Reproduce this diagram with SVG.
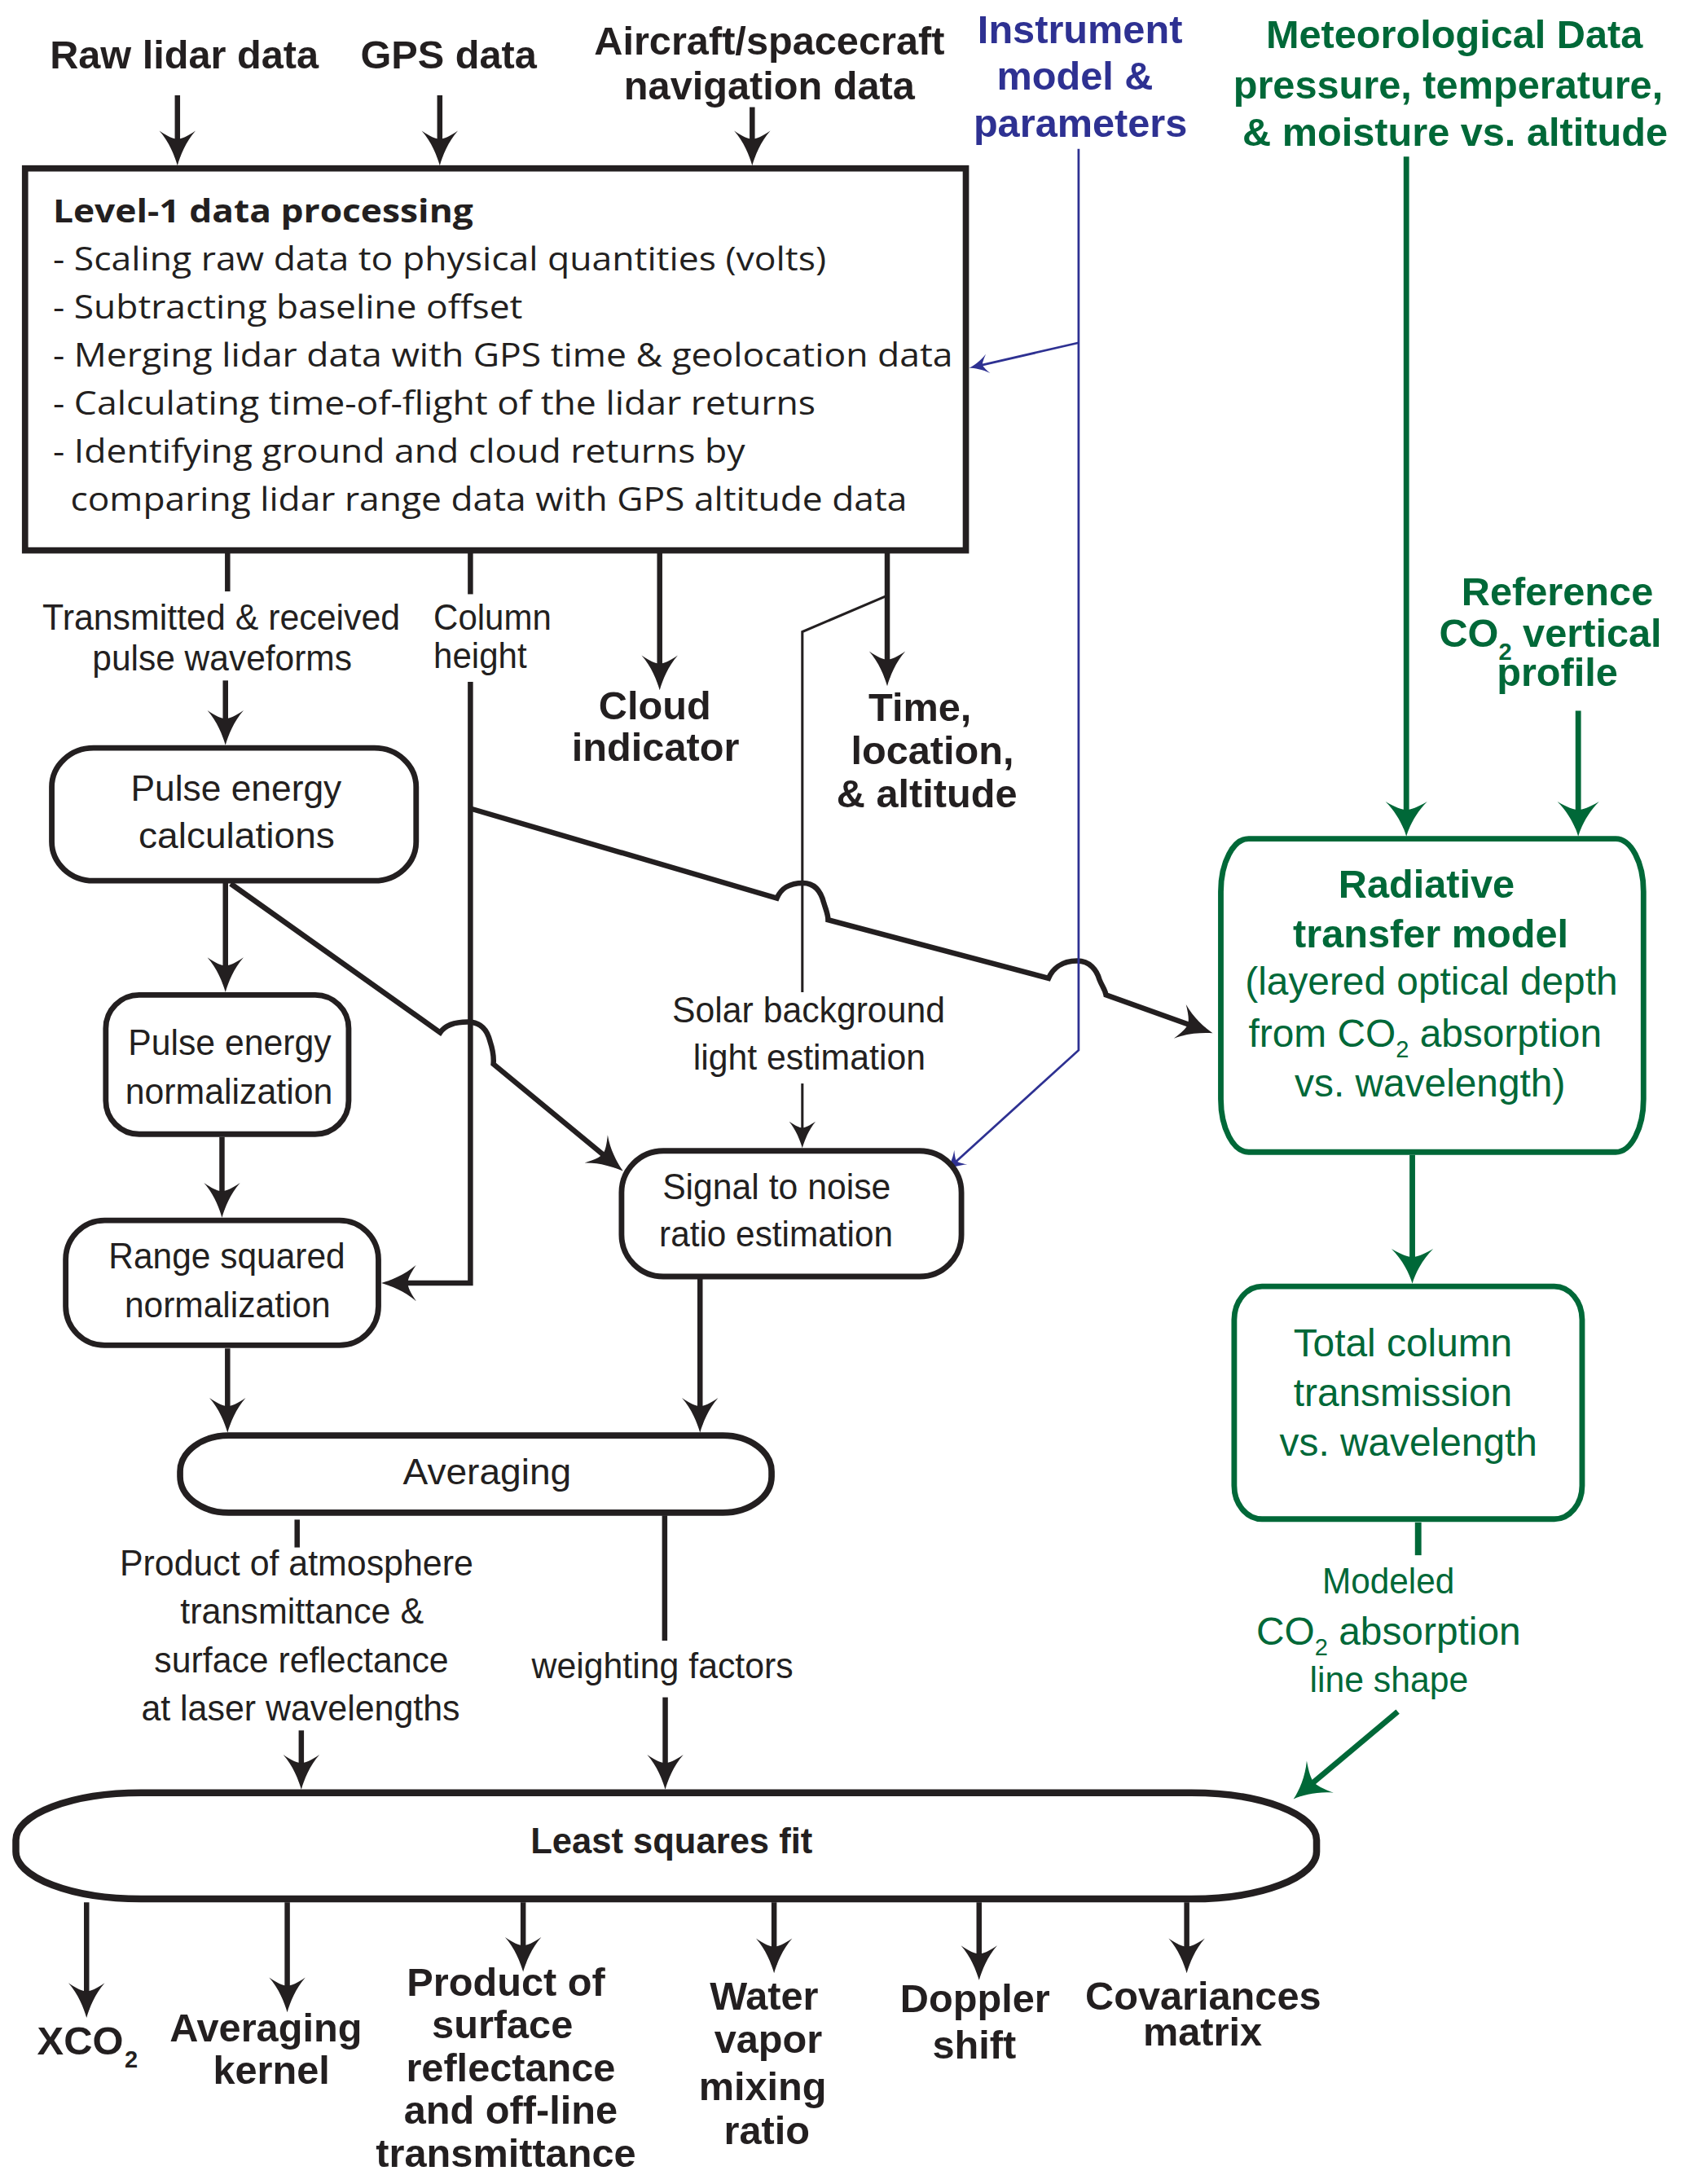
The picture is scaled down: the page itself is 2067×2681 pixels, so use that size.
<svg xmlns="http://www.w3.org/2000/svg" width="2067" height="2681" viewBox="0 0 2067 2681">
<style>
.bk{fill:none;stroke:#231f20;stroke-width:3.8}
.bkt{fill:none;stroke:#231f20;stroke-width:1.8}
.bl{fill:none;stroke:#2e3192;stroke-width:1.6}
.gr{fill:none;stroke:#006838;stroke-width:4}
.nb{fill:#fff;stroke:#231f20;stroke-width:4}
.ng{fill:#fff;stroke:#006838;stroke-width:4}
text{font-family:'Liberation Sans',Arial,Helvetica,sans-serif}
.tb{font-weight:bold;font-size:28.5px;fill:#231f20}
.tr{font-size:26px;fill:#231f20}
.l1{font-family:'Open Sans','Noto Sans','Liberation Sans',sans-serif;font-size:23.5px;fill:#231f20}
.l1b{font-family:'Open Sans','Noto Sans','Liberation Sans',sans-serif;font-size:23.5px;font-weight:bold;fill:#231f20}
.blt{font-weight:bold;font-size:28.5px;fill:#2e3192}
.gb{font-weight:bold;font-size:28.5px;fill:#006838}
.g{font-size:28px;fill:#006838}
.m{text-anchor:middle}
</style>
<defs>
<marker id="ak" viewBox="-28 -16 30 32" markerWidth="30" markerHeight="32" refX="-6" refY="0" orient="auto" markerUnits="userSpaceOnUse" overflow="visible">
<path d="M0,0 C-7,-2 -17,-6 -25,-13 C-21,-7 -19,-3 -19,0 C-19,3 -21,7 -25,13 C-17,6 -7,2 0,0 Z" fill="#231f20"/>
</marker>
<marker id="aks" viewBox="-22 -12 24 24" markerWidth="24" markerHeight="24" refX="-4" refY="0" orient="auto" markerUnits="userSpaceOnUse" overflow="visible">
<path d="M0,0 C-5,-1.5 -13,-4.5 -19,-9.5 C-16,-5 -14.5,-2 -14.5,0 C-14.5,2 -16,5 -19,9.5 C-13,4.5 -5,1.5 0,0 Z" fill="#231f20"/>
</marker>
<marker id="ab" viewBox="-16 -9 18 18" markerWidth="18" markerHeight="18" refX="-3" refY="0" orient="auto" markerUnits="userSpaceOnUse" overflow="visible">
<path d="M0,0 C-4,-1 -9,-3 -14,-7 C-11,-3 -10,-1 -10,0 C-10,1 -11,3 -14,7 C-9,3 -4,1 0,0 Z" fill="#2e3192"/>
</marker>
<marker id="ag" viewBox="-28 -17 30 34" markerWidth="30" markerHeight="34" refX="-6" refY="0" orient="auto" markerUnits="userSpaceOnUse" overflow="visible">
<path d="M0,0 C-7,-2 -17,-7 -25,-15 C-21,-8 -19,-3 -19,0 C-19,3 -21,8 -25,15 C-17,7 -7,2 0,0 Z" fill="#006838"/>
</marker>
</defs>
<rect width="2067" height="2681" fill="#fff"/>
<g transform="scale(1.708264)">

<g id="connectors">
<path class="bk" d="M127.5 68.5 V113" marker-end="url(#ak)"/>
<path class="bk" d="M316 68.5 V113" marker-end="url(#ak)"/>
<path class="bk" d="M540.5 77 V113" marker-end="url(#ak)"/>
<path class="bk" d="M163.5 397 V425"/>
<path class="bk" d="M162 489 V529.5" marker-end="url(#ak)"/>
<path class="bk" d="M338 397 V427"/>
<path class="bk" d="M338 490 V922 H280" marker-end="url(#ak)"/>
<path class="bk" d="M474 397 V490" marker-end="url(#ak)"/>
<path class="bk" d="M637.5 397 V487" marker-end="url(#ak)"/>
<path class="bkt" d="M637.5 428 L576.5 454 V713"/>
<path class="bkt" d="M576.5 778.6 V821" marker-end="url(#aks)"/>
<path class="bk" d="M338 581 L558.2 645.4 C561 639 566 634.5 577 634.5 C586 634.5 590 641 592 649 C593.5 654 595 657 595 661 L753.4 703 C756 697 762 690.5 774 690.5 C783 690.5 788 697 790 704 C792 709 794 711 794.7 715 L865.7 740.4" marker-end="url(#ak)"/>
<path class="bk" d="M162 633 V707" marker-end="url(#ak)"/>
<path class="bk" d="M165.7 635 L316.3 742 C319 738 325 734.4 336 734.4 C345 734.4 350 740 352 748 C354 754 355 759 354.5 764.6 L443 837.7" marker-end="url(#ak)"/>
<path class="bk" d="M159.5 817 V869" marker-end="url(#ak)"/>
<path class="bk" d="M163.5 969 V1023.5" marker-end="url(#ak)"/>
<path class="bk" d="M503 919 V1023.5" marker-end="url(#ak)"/>
<path class="bk" d="M213.5 1092 V1112"/>
<path class="bk" d="M216.5 1243.5 V1280" marker-end="url(#ak)"/>
<path class="bk" d="M477.6 1089 V1179"/>
<path class="bk" d="M478 1219.7 V1280" marker-end="url(#ak)"/>
<path class="bk" d="M62.2 1367 V1444" marker-end="url(#ak)"/>
<path class="bk" d="M206.4 1367 V1440" marker-end="url(#ak)"/>
<path class="bk" d="M375.9 1367 V1411" marker-end="url(#ak)"/>
<path class="bk" d="M556.2 1367 V1412" marker-end="url(#ak)"/>
<path class="bk" d="M703.5 1367 V1417" marker-end="url(#ak)"/>
<path class="bk" d="M852.7 1367 V1412" marker-end="url(#ak)"/>
<path class="bl" d="M775 107 V754.7 L682.2 839" marker-end="url(#ab)"/>
<path class="bl" d="M775 246.3 L699.2 263.8" marker-end="url(#ab)"/>
<path class="gr" d="M1010.5 112.6 V595" marker-end="url(#ag)"/>
<path class="gr" d="M1134 510.8 V595" marker-end="url(#ag)"/>
<path class="gr" d="M1014.8 830 V916.4" marker-end="url(#ag)"/>
<path class="gr" d="M1019 1094 V1117.6" style="stroke-width:4.6"/>
<path class="gr" d="M1004.3 1230 L934 1289" marker-end="url(#ag)"/>
</g>

<g id="in-raw"><text class="tb" x="35.8" y="48.9">Raw lidar data</text></g>
<g id="in-gps"><text class="tb" x="259" y="48.9">GPS data</text></g>
<g id="in-nav"><text class="tb m" x="552.8" y="39">Aircraft/spacecraft</text><text class="tb m" x="552.8" y="71.5">navigation data</text></g>
<g id="in-instrument"><text class="blt m" x="776" y="30.9">Instrument</text><text class="blt m" x="772.4" y="64.5">model &amp;</text><text class="blt m" x="776.3" y="98.1">parameters</text></g>
<g id="in-met"><text class="gb m" x="1045" y="34.6">Meteorological Data</text><text class="gb m" x="1040.5" y="70.6">pressure, temperature,</text><text class="gb m" x="1045.5" y="104.9">&amp; moisture vs. altitude</text></g>

<g id="level1">
<rect x="18" y="121" width="676" height="274.5" fill="#fff" stroke="#231f20" stroke-width="4.5"/>
<text class="l1b" x="38" y="160" textLength="302" lengthAdjust="spacingAndGlyphs">Level-1 data processing</text>
<text class="l1" x="38" y="194.5" textLength="555.6" lengthAdjust="spacingAndGlyphs">- Scaling raw data to physical quantities (volts)</text>
<text class="l1" x="38" y="229" textLength="337.5" lengthAdjust="spacingAndGlyphs">- Subtracting baseline offset</text>
<text class="l1" x="38" y="263.5" textLength="646.6" lengthAdjust="spacingAndGlyphs">- Merging lidar data with GPS time &amp; geolocation data</text>
<text class="l1" x="38" y="298" textLength="548" lengthAdjust="spacingAndGlyphs">- Calculating time-of-flight of the lidar returns</text>
<text class="l1" x="38" y="332.5" textLength="497.4" lengthAdjust="spacingAndGlyphs">- Identifying ground and cloud returns by</text>
<text class="l1" x="50.6" y="367" textLength="601.2" lengthAdjust="spacingAndGlyphs">comparing lidar range data with GPS altitude data</text>
</g>

<g id="lbl-waveforms"><text class="tr m" x="159" y="452.4" textLength="257" lengthAdjust="spacingAndGlyphs">Transmitted &amp; received</text><text class="tr m" x="159.6" y="481.9" textLength="186.6" lengthAdjust="spacingAndGlyphs">pulse waveforms</text></g>
<g id="lbl-column"><text class="tr" x="311.5" y="452.7" textLength="84.7" lengthAdjust="spacingAndGlyphs">Column</text><text class="tr" x="311.5" y="480" textLength="67" lengthAdjust="spacingAndGlyphs">height</text></g>
<g id="out-cloud"><text class="tb m" x="470.5" y="517">Cloud</text><text class="tb m" x="471" y="547">indicator</text></g>
<g id="out-time"><text class="tb m" x="661" y="518">Time,</text><text class="tb m" x="670" y="549">location,</text><text class="tb m" x="666" y="580">&amp; altitude</text></g>
<g id="in-refco2"><text class="gb m" x="1119" y="435">Reference</text><text class="gb m" x="1114" y="465">CO<tspan dy="9" style="font-size:17px">2</tspan><tspan dy="-9"> vertical</tspan></text><text class="gb m" x="1119" y="493">profile</text></g>

<g id="pulse-energy-calc">
<rect class="nb" x="37.2" y="537.5" width="261.8" height="95.4" rx="30" ry="28"/>
<text class="tr m" x="169.7" y="575.2" textLength="151.5" lengthAdjust="spacingAndGlyphs">Pulse energy</text>
<text class="tr m" x="170" y="609.2" textLength="141" lengthAdjust="spacingAndGlyphs">calculations</text>
</g>
<g id="pulse-energy-norm">
<rect class="nb" x="76" y="715" width="174.5" height="100" rx="24" ry="24"/>
<text class="tr m" x="165" y="758" textLength="146" lengthAdjust="spacingAndGlyphs">Pulse energy</text>
<text class="tr m" x="164.5" y="793" textLength="149" lengthAdjust="spacingAndGlyphs">normalization</text>
</g>
<g id="range-squared">
<rect class="nb" x="47.2" y="877" width="224.7" height="89.7" rx="28" ry="28"/>
<text class="tr m" x="163" y="911.6" textLength="170" lengthAdjust="spacingAndGlyphs">Range squared</text>
<text class="tr m" x="163.5" y="946.6" textLength="148" lengthAdjust="spacingAndGlyphs">normalization</text>
</g>
<g id="solar-bg"><text class="tr m" x="581" y="734.7" textLength="196" lengthAdjust="spacingAndGlyphs">Solar background</text><text class="tr m" x="581.5" y="768.6" textLength="167" lengthAdjust="spacingAndGlyphs">light estimation</text></g>
<g id="snr">
<rect class="nb" x="446.6" y="827" width="244.2" height="90.3" rx="30" ry="30"/>
<text class="tr m" x="558" y="861.5" textLength="164" lengthAdjust="spacingAndGlyphs">Signal to noise</text>
<text class="tr m" x="557.6" y="895.6" textLength="168" lengthAdjust="spacingAndGlyphs">ratio estimation</text>
</g>
<g id="averaging">
<rect class="nb" x="129.4" y="1031.5" width="425" height="55.5" rx="35" ry="26" style="stroke-width:4.5"/>
<text class="tr m" x="350" y="1066.6" textLength="121" lengthAdjust="spacingAndGlyphs">Averaging</text>
</g>
<g id="lbl-product">
<text class="tr m" x="213" y="1132" textLength="254" lengthAdjust="spacingAndGlyphs">Product of atmosphere</text>
<text class="tr m" x="217" y="1166.6" textLength="175" lengthAdjust="spacingAndGlyphs">transmittance &amp;</text>
<text class="tr m" x="216.6" y="1201.9" textLength="211.5" lengthAdjust="spacingAndGlyphs">surface reflectance</text>
<text class="tr m" x="216" y="1236.5" textLength="229" lengthAdjust="spacingAndGlyphs">at laser wavelengths</text>
</g>
<g id="lbl-weighting"><text class="tr m" x="476" y="1206" textLength="188" lengthAdjust="spacingAndGlyphs">weighting factors</text></g>

<g id="radiative">
<rect class="ng" x="877.2" y="602.7" width="303.7" height="225.2" rx="20" ry="38"/>
<text class="gb m" x="1025" y="645">Radiative</text>
<text class="gb m" x="1028" y="681">transfer model</text>
<text class="g m" x="1028.5" y="714.8">(layered optical depth</text>
<text class="g m" x="1024" y="752">from CO<tspan dy="8" style="font-size:17px">2</tspan><tspan dy="-8"> absorption</tspan></text>
<text class="g m" x="1027.5" y="788">vs. wavelength)</text>
</g>
<g id="total-column">
<rect class="ng" x="886.8" y="924.4" width="250" height="167.2" rx="20" ry="24"/>
<text class="g m" x="1008" y="974.7">Total column</text>
<text class="g m" x="1008" y="1010.5">transmission</text>
<text class="g m" x="1012" y="1045.8">vs. wavelength</text>
</g>
<g id="lbl-modeled">
<text class="g m" x="997.6" y="1145" style="font-size:26px" textLength="95" lengthAdjust="spacingAndGlyphs">Modeled</text>
<text class="g m" x="997.7" y="1181.8">CO<tspan dy="8" style="font-size:17px">2</tspan><tspan dy="-8"> absorption</tspan></text>
<text class="g m" x="998" y="1215.7" style="font-size:26px" textLength="114" lengthAdjust="spacingAndGlyphs">line shape</text>
</g>

<g id="least-squares">
<rect x="11.4" y="1288.3" width="934.6" height="76.3" rx="90" ry="34" fill="#fff" stroke="#231f20" stroke-width="5"/>
<text class="tb m" x="482.5" y="1331.8" style="font-size:25.5px">Least squares fit</text>
</g>

<g id="out-xco2"><text class="tb" x="26.7" y="1476.6" textLength="62" lengthAdjust="spacingAndGlyphs">XCO</text><text class="tb" x="89.5" y="1486" style="font-size:17px">2</text></g>
<g id="out-kernel"><text class="tb m" x="191" y="1466.7">Averaging</text><text class="tb m" x="195" y="1497.5">kernel</text></g>
<g id="out-product"><text class="tb m" x="363.5" y="1434">Product of</text><text class="tb m" x="361" y="1464.7">surface</text><text class="tb m" x="367" y="1495.5">reflectance</text><text class="tb m" x="367" y="1526">and off-line</text><text class="tb m" x="363.5" y="1557">transmittance</text></g>
<g id="out-water"><text class="tb m" x="549" y="1444">Water</text><text class="tb m" x="552" y="1475">vapor</text><text class="tb m" x="548" y="1509">mixing</text><text class="tb m" x="551" y="1541">ratio</text></g>
<g id="out-doppler"><text class="tb m" x="700.6" y="1446">Doppler</text><text class="tb m" x="700" y="1479">shift</text></g>
<g id="out-cov"><text class="tb m" x="864.5" y="1444">Covariances</text><text class="tb m" x="864" y="1470">matrix</text></g>
</g>
</svg>
